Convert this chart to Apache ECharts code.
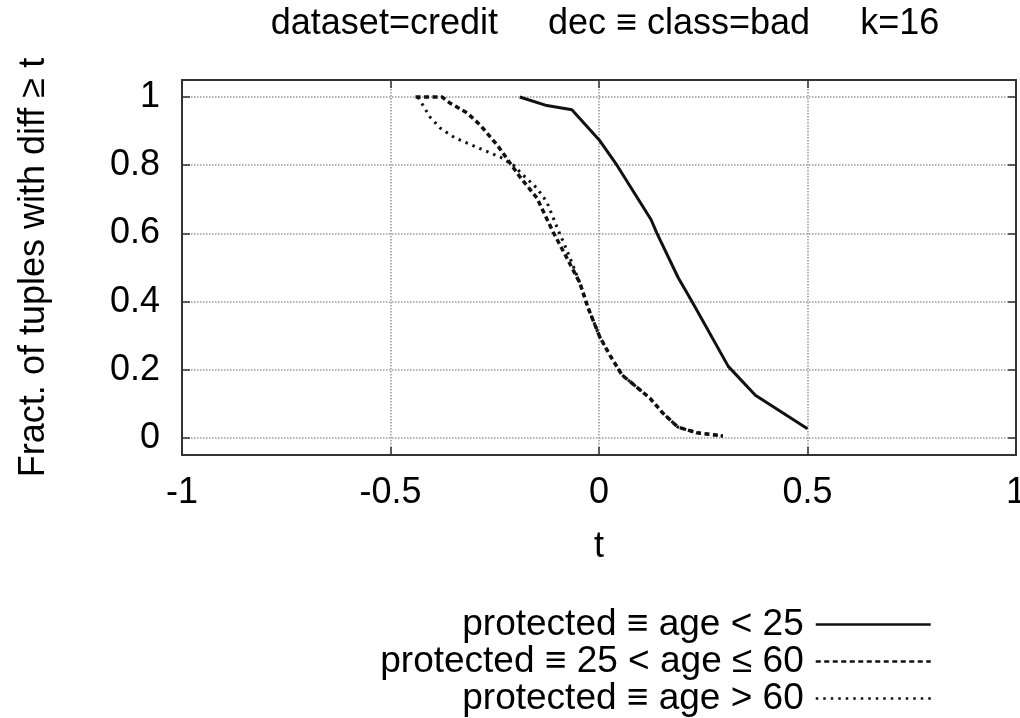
<!DOCTYPE html>
<html>
<head>
<meta charset="utf-8">
<script src="https://cdn.jsdelivr.net/npm/echarts@6/dist/echarts.min.js"></script>
<style>
  html, body { margin: 0; padding: 0; background: #fff; }
  #chart { width: 1020px; height: 718px; }
</style>
</head>
<body>
<div id="chart"></div>
<script>
const FONT = "'Liberation Sans', Arial, sans-serif";

const seriesNames = [
  "protected \u2261 age < 25",
  "protected \u2261 25 < age \u2264 60",
  "protected \u2261 age > 60"
];

// age < 25
const youngT = [-0.19, -0.125, -0.065, 0, 0.043, 0.125, 0.139, 0.19, 0.225, 0.31, 0.375, 0.5];
const youngY = [1.0, 0.975, 0.963, 0.875, 0.80, 0.64, 0.60, 0.47, 0.396, 0.21, 0.125, 0.027];

// 25 < age <= 60
const midT = [-0.44, -0.376, -0.357, -0.316, -0.285, -0.244, -0.213, -0.189, -0.149, -0.110, -0.077,
  -0.046, -0.026, 0.002, 0.026, 0.055, 0.122, 0.153, 0.189, 0.235, 0.297];
const midY = [1.0, 1.0, 0.982, 0.953, 0.918, 0.859, 0.806, 0.765, 0.704, 0.604, 0.528,
  0.455, 0.381, 0.296, 0.243, 0.185, 0.117, 0.073, 0.032, 0.015, 0.006];

// age > 60
const oldT = [-0.434, -0.405, -0.381, -0.345, -0.316, -0.278, -0.237, -0.206, -0.182, -0.149, -0.125,
  -0.098, -0.077, -0.046, -0.026, 0.002, 0.026, 0.055, 0.122, 0.153, 0.189, 0.235, 0.297];
const oldY = [1.0, 0.941, 0.909, 0.880, 0.865, 0.845, 0.824, 0.801, 0.771, 0.733, 0.692,
  0.610, 0.551, 0.455, 0.381, 0.296, 0.243, 0.185, 0.117, 0.073, 0.032, 0.015, 0.006];

const yTicks = [0, 0.2, 0.4, 0.6, 0.8, 1];

const pairs = (xs, ys) => xs.map((x, i) => [x, ys[i]]);

const chart = echarts.init(document.getElementById("chart"));

const gridLine = { show: true, lineStyle: { color: "#999", type: "dotted", width: 1.5 } };
const frame = { show: true, onZero: false, lineStyle: { color: "#333", width: 2 } };
const ticks = { show: true, inside: true, length: 8, lineStyle: { color: "#333", width: 1.5 } };

const legendAt = (name, top) => ({
  data: [name],
  right: 83,
  top: top,
  align: "right",
  itemWidth: 115,
  itemHeight: 20,
  itemStyle: { opacity: 0 },
  lineStyle: { width: 2.5 },
  textStyle: { fontFamily: FONT, fontSize: 37, color: "#000", padding: [0, 7, 0, 0] }
});

chart.setOption({
  animation: false,
  backgroundColor: "#fff",
  title: {
    text: "dataset=credit     dec \u2261 class=bad     k=16",
    left: 600,
    top: 1,
    textAlign: "center",
    textStyle: { fontFamily: FONT, fontSize: 36, fontWeight: "normal", color: "#000" }
  },
  legend: [
    legendAt(seriesNames[0], 601),
    legendAt(seriesNames[1], 638),
    legendAt(seriesNames[2], 675)
  ],
  grid: { left: 182, right: 4, top: 80, bottom: 263, outerBoundsMode: "none" },
  xAxis: [
    {
      type: "value",
      min: -1,
      max: 1,
      interval: 0.5,
      name: "t",
      nameLocation: "middle",
      nameGap: 74,
      nameTextStyle: { fontFamily: FONT, fontSize: 36, color: "#000" },
      axisLine: frame,
      axisTick: ticks,
      axisLabel: { fontFamily: FONT, fontSize: 36, color: "#000", margin: 20 },
      splitLine: gridLine
    },
    {
      type: "value",
      position: "top",
      min: -1,
      max: 1,
      interval: 0.5,
      axisLine: frame,
      axisTick: ticks,
      axisLabel: { show: false },
      splitLine: { show: false }
    }
  ],
  yAxis: [
    {
      type: "value",
      min: -0.05,
      max: 1.05,
      name: "Fract. of tuples with diff \u2265 t",
      nameLocation: "middle",
      nameRotate: 90,
      nameGap: 130,
      nameTextStyle: { fontFamily: FONT, fontSize: 36, color: "#000" },
      axisLine: frame,
      axisTick: Object.assign({ customValues: yTicks }, ticks),
      axisLabel: { fontFamily: FONT, fontSize: 36, color: "#000", margin: 22, customValues: yTicks },
      splitLine: gridLine
    },
    {
      type: "value",
      position: "right",
      min: -0.05,
      max: 1.05,
      axisLine: frame,
      axisTick: Object.assign({ customValues: yTicks }, ticks),
      axisLabel: { show: false },
      splitLine: { show: false }
    }
  ],
  series: [
    {
      name: seriesNames[2],
      type: "line",
      data: pairs(oldT, oldY),
      symbol: "none",
      itemStyle: { color: "#111" },
      lineStyle: { color: "#111", width: 3, type: [2.5, 5] },
      z: 2
    },
    {
      name: seriesNames[1],
      type: "line",
      data: pairs(midT, midY),
      symbol: "none",
      itemStyle: { color: "#111" },
      lineStyle: { color: "#111", width: 3.5, type: [5, 3.5] },
      z: 3
    },
    {
      name: seriesNames[0],
      type: "line",
      data: pairs(youngT, youngY),
      symbol: "none",
      itemStyle: { color: "#111" },
      lineStyle: { color: "#111", width: 3 },
      z: 4
    }
  ]
});
</script>
</body>
</html>
